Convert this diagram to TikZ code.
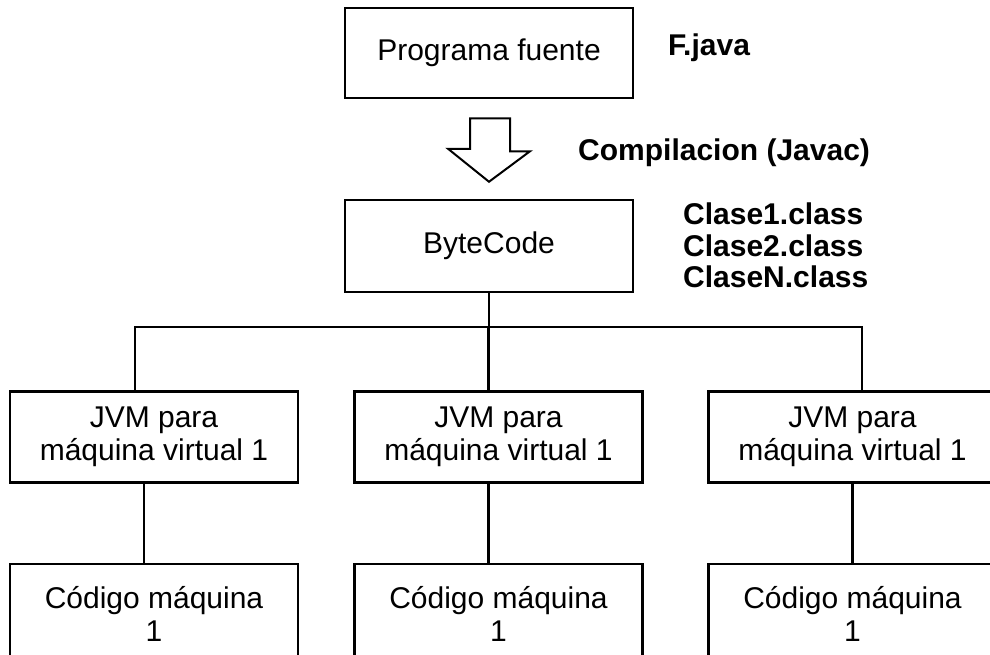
\documentclass[tikz,border=0pt]{standalone}
\usepackage{fontspec}
\setmainfont{Liberation Sans}
\usetikzlibrary{calc}
\tikzset{
  box/.style={draw, line width=2.5pt, minimum width=288pt, inner sep=0pt, align=center,
              font=\fontsize{30}{33}\selectfont},
  lbl/.style={anchor=west, inner sep=0pt, align=left, font=\fontsize{30}{31.5}\selectfont\bfseries},
  link/.style={line width=2.4pt}
}
\begin{document}
\begin{tikzpicture}[x=1pt,y=-1pt]
  \useasboundingbox (0,0) rectangle (990,654);
  \clip (0,0) rectangle (990,654);
  \fill[white] (0,0) rectangle (990,654);

  % source program and compiled bytecode
  \node[box, minimum height=90pt] (src) at (489,53) {Programa fuente};
  \node[lbl] (fjava) at (668,48) {F.java};
  \node[box, minimum height=92pt] (bc) at (489,246) {ByteCode};
  \node[lbl] (comp) at (578,153) {Compilacion (Javac)};
  \node[lbl, anchor=north west] (cls) at (683,203) {Clase1.class\\Clase2.class\\ClaseN.class};

  % hollow block arrow for the compile step
  \draw[line width=2pt, line join=miter]
    ($(src.south)+(-19,19)$) -- ++(40,0) -- ++(0,33) -- ++(20,0)
    -- ($(bc.north)+(0,-17)$) -- ++(-41,-33) -- ++(22,0) -- cycle;

  % one JVM per target machine
  \node[box, minimum height=91pt] (jvm1) at (154,437) {JVM para\\máquina virtual 1};
  \node[box, minimum height=91pt] (jvm2) at (498.5,437) {JVM para\\máquina virtual 1};
  \node[box, minimum height=91pt] (jvm3) at (852.5,437) {JVM para\\máquina virtual 1};

  \node[box, minimum height=100pt] (mc1) at (154,614) {Código máquina\\1};
  \node[box, minimum height=100pt] (mc2) at (498.5,614) {Código máquina\\1};
  \node[box, minimum height=100pt] (mc3) at (852.5,614) {Código máquina\\1};

  % distribution bus
  \coordinate (busL) at (135,327);
  \coordinate (busR) at (862,327);
  \draw[link] (bc.south) -- (bc.south |- busL);
  \draw[link] (jvm1.north -| busL) -- (busL) -- (busR) -- (jvm3.north -| busR);
  \draw[link] ([xshift=-10pt]jvm2.north) -- ([xshift=-10pt]jvm2.north |- busL);

  % JVM to machine code
  \draw[link] ([xshift=-10pt]jvm1.south) -- ([xshift=-10pt]mc1.north);
  \draw[link] ([xshift=-10pt]jvm2.south) -- ([xshift=-10pt]mc2.north);
  \draw[link] (jvm3.south) -- (mc3.north);
\end{tikzpicture}
\end{document}
